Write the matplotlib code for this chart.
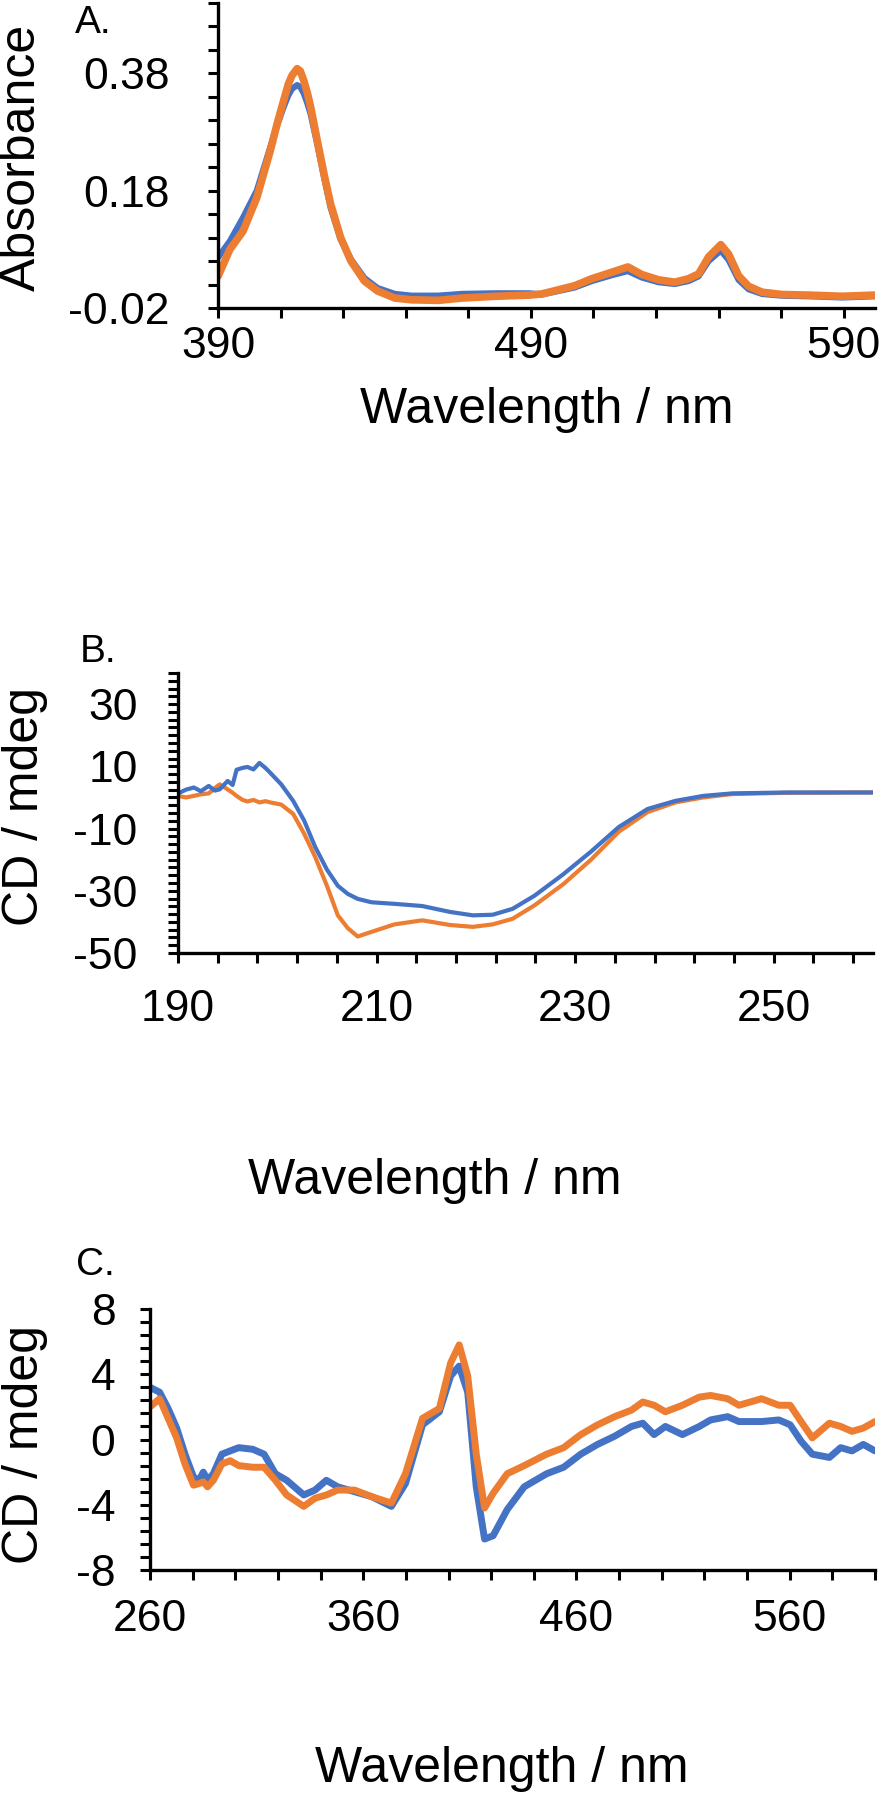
import numpy as np
import matplotlib
matplotlib.use("Agg")
import matplotlib.pyplot as plt
from matplotlib.ticker import FixedLocator, FixedFormatter

plt.rcParams["font.family"] = ["Liberation Sans", "DejaVu Sans"]
plt.rcParams["axes.unicode_minus"] = False

BLUE = "#4472C4"
ORANGE = "#ED7D31"

# ---- panel A: absorbance ----
a_wl = [390, 393.8, 398, 402.4, 406.7, 408.8, 411, 412.5, 413.7, 415.3, 416.3, 417.4,
        418.5, 419.6, 421.7, 423.9, 426, 429.2, 432.5, 436.8, 441, 446.5, 451.8, 460.4,
        468, 478.7, 489.5, 493.5, 498.8, 504, 509.5, 515.9, 521, 525.5, 530.8, 536,
        540.4, 543.6, 546.8, 550.7, 553.2, 556.4, 559.6, 563.9, 570.3, 578.8, 589.5, 600]
a_blue = [0.066, 0.094, 0.134, 0.18, 0.254, 0.29, 0.323, 0.343, 0.354, 0.36, 0.357, 0.346,
          0.330, 0.311, 0.26, 0.203, 0.151, 0.097, 0.063, 0.031, 0.014, 0.004, 0.001, 0.001,
          0.004, 0.005, 0.005, 0.003, 0.009, 0.015, 0.026, 0.036, 0.043, 0.032, 0.024, 0.021,
          0.026, 0.034, 0.06, 0.078, 0.062, 0.028, 0.012, 0.004, 0.001, 0.0, -0.002, 0.0]
a_orange = [0.034, 0.080, 0.111, 0.168, 0.248, 0.292, 0.334, 0.362, 0.377, 0.388, 0.384, 0.368,
            0.348, 0.323, 0.266, 0.208, 0.157, 0.10, 0.06, 0.026, 0.009, -0.003, -0.006, -0.007,
            -0.003, 0.0, 0.002, 0.004, 0.011, 0.018, 0.03, 0.041, 0.05, 0.037, 0.028, 0.024,
            0.03, 0.038, 0.067, 0.088, 0.072, 0.035, 0.017, 0.007, 0.003, 0.002, 0.0, 0.002]

# ---- panel B: far-UV CD ----
b_wl = [190, 190.8, 191.6, 192.3, 193.1, 193.7, 194.2, 195, 195.5, 195.9, 196.5, 197,
        197.6, 198.2, 198.8, 199.3, 200.4, 201.6, 202.7, 203.8, 205, 206.1, 207.1, 208.1,
        209.5, 211.8, 214.6, 217.4, 219.7, 221.7, 223.7, 225.9, 228.8, 231.6, 234.4, 237.3,
        240.1, 242.9, 245.8, 251.4, 260]
b_blue = [1.3, 2.5, 3.2, 2.0, 3.7, 2.2, 2.6, 5.3, 4.0, 8.9, 9.5, 9.8,
          9.0, 11.1, 9.5, 7.9, 4.2, -1.1, -7.4, -15.8, -23.2, -28.4, -31.0, -32.6,
          -33.7, -34.2, -34.9, -36.8, -37.9, -37.7, -35.8, -31.6, -24.7, -17.4, -9.5, -3.7,
          -1.1, 0.5, 1.3, 1.6, 1.6]
b_orange = [0.5, 0.0, 0.5, 1.0, 1.3, 3.0, 4.2, 2.6, 1.5, 0.5, -0.8, -1.3,
            -0.8, -1.6, -1.2, -1.6, -2.3, -5.3, -11.6, -19.0, -28.4, -37.9, -42.0, -44.7,
            -43.2, -40.8, -39.5, -41.0, -41.6, -40.8, -39.0, -34.7, -27.9, -20.0, -11.0, -4.7,
            -1.6, 0.0, 1.1, 1.5, 1.6]

# ---- panel C: near-UV / visible CD ----
c_wl = [260, 264.5, 268.5, 272.5, 276.4, 280.4, 283, 285, 287, 289.7, 293.7, 297.6,
        301.6, 308.2, 313.5, 318.8, 324.1, 332.1, 337.4, 342.7, 348, 355.9, 363.9, 373.2,
        379.8, 387.8, 395.7, 401, 405, 409, 413, 416.9, 420.9, 427.5, 435.5, 446,
        454, 462, 469.9, 477.9, 485.8, 491.1, 496.4, 501.7, 509.7, 517.6, 522.9, 530.9,
        536.2, 546.8, 554.9, 560.2, 565.3, 570.6, 578.6, 583.9, 589.2, 594.5, 600]
c_blue = [3.2, 2.9, 1.9, 0.7, -0.9, -2.3, -2.5, -2.0, -2.5, -2.1, -0.9, -0.7,
          -0.5, -0.6, -0.9, -2.1, -2.5, -3.4, -3.1, -2.5, -2.9, -3.2, -3.5, -4.1,
          -2.7, 0.9, 1.7, 3.9, 4.5, 2.9, -2.9, -6.1, -5.9, -4.3, -2.9, -2.1,
          -1.7, -0.9, -0.3, 0.2, 0.8, 1.0, 0.3, 0.8, 0.3, 0.8, 1.2, 1.4,
          1.1, 1.1, 1.2, 0.9, -0.1, -0.9, -1.1, -0.5, -0.7, -0.3, -0.7]
c_orange = [2.0, 2.5, 1.3, 0.1, -1.5, -2.8, -2.7, -2.6, -2.9, -2.5, -1.5, -1.3,
            -1.6, -1.7, -1.7, -2.5, -3.4, -4.1, -3.6, -3.4, -3.1, -3.1, -3.5, -3.9,
            -2.1, 1.3, 1.9, 4.7, 5.8, 3.9, -0.9, -4.2, -3.3, -2.1, -1.6, -0.9,
            -0.5, 0.3, 0.9, 1.4, 1.8, 2.3, 2.1, 1.7, 2.1, 2.6, 2.7, 2.5,
            2.1, 2.5, 2.1, 2.1, 1.1, 0.1, 1.0, 0.8, 0.5, 0.7, 1.1]

TICK_FS = 32
LABEL_FS = 36


def style_axis(ax, xlim, xticks_all, xlabels_at, ylim, yticks_all, ylabels_at, ylab_fmt,
               xpad, ypad):
    ax.set_xlim(*xlim)
    ax.set_ylim(*ylim)
    for s in ["top", "right"]:
        ax.spines[s].set_visible(False)
    for s in ["left", "bottom"]:
        ax.spines[s].set_linewidth(2.4)
    ax.xaxis.set_major_locator(FixedLocator(xlabels_at))
    ax.xaxis.set_major_formatter(FixedFormatter([str(v) for v in xlabels_at]))
    ax.xaxis.set_minor_locator(FixedLocator(xticks_all))
    ax.yaxis.set_major_locator(FixedLocator(ylabels_at))
    ax.yaxis.set_major_formatter(FixedFormatter([ylab_fmt.format(v) for v in ylabels_at]))
    ax.yaxis.set_minor_locator(FixedLocator(yticks_all))
    ax.tick_params(which="both", direction="out", length=7, width=2.2)
    ax.tick_params(axis="x", which="major", labelsize=TICK_FS, pad=xpad)
    ax.tick_params(axis="y", which="major", labelsize=TICK_FS, pad=ypad)


fig = plt.figure(figsize=(8.81, 18), dpi=100)
W, H = 881, 1800


def add_ax(left, top, right, bottom):
    return fig.add_axes([left / W, 1 - bottom / H, (right - left) / W, (bottom - top) / H])


line_kw = dict(solid_capstyle="round", solid_joinstyle="round")

# panel A
axA = add_ax(218, 3, 875, 308)
axA.plot(a_wl, a_blue, color=BLUE, lw=4.5, **line_kw)
axA.plot(a_wl, a_orange, color=ORANGE, lw=5.5, **line_kw)
style_axis(axA, (390, 600), np.arange(390, 591, 20), [390, 490, 590],
           (-0.02, 0.50), np.round(np.arange(-0.02, 0.501, 0.04), 2), [-0.02, 0.18, 0.38],
           "{:.2f}", 6, 28)
fig.text(93 / W, 1 - 23 / H, "A.", fontsize=28, ha="center", va="center")
fig.text(22 / W, 1 - 157 / H, "Absorbance", fontsize=LABEL_FS, rotation=90,
         ha="center", va="center")
fig.text(547 / W, 1 - 410 / H, "Wavelength / nm", fontsize=LABEL_FS, ha="center", va="center")

# panel B
axB = add_ax(178, 673, 873, 953)
axB.plot(b_wl, b_orange, color=ORANGE, lw=3.0, **line_kw)
axB.plot(b_wl, b_blue, color=BLUE, lw=3.0, **line_kw)
style_axis(axB, (190, 260), np.arange(190, 259, 4), [190, 210, 230, 250],
           (-50, 40), np.arange(-50, 40.1, 2.5), [-50, -30, -10, 10, 30],
           "{:d}", 19, 22)
fig.text(98 / W, 1 - 652 / H, "B.", fontsize=28, ha="center", va="center")
fig.text(25 / W, 1 - 807 / H, "CD / mdeg", fontsize=LABEL_FS, rotation=90,
         ha="center", va="center")
fig.text(435 / W, 1 - 1181 / H, "Wavelength / nm", fontsize=LABEL_FS, ha="center", va="center")

# panel C
axC = add_ax(150, 1309, 875, 1570)
axC.plot(c_wl, c_blue, color=BLUE, lw=5.0, **line_kw)
axC.plot(c_wl, c_orange, color=ORANGE, lw=5.0, **line_kw)
style_axis(axC, (260, 600), np.arange(260, 601, 20), [260, 360, 460, 560],
           (-8, 8), np.round(np.arange(-8, 8.01, 0.8), 1), [-8, -4, 0, 4, 8],
           "{:d}", 14, 18)
fig.text(95 / W, 1 - 1265 / H, "C.", fontsize=28, ha="center", va="center")
fig.text(25 / W, 1 - 1445 / H, "CD / mdeg", fontsize=LABEL_FS, rotation=90,
         ha="center", va="center")
fig.text(502 / W, 1 - 1769 / H, "Wavelength / nm", fontsize=LABEL_FS, ha="center", va="center")

fig.savefig("out.png", dpi=100)
